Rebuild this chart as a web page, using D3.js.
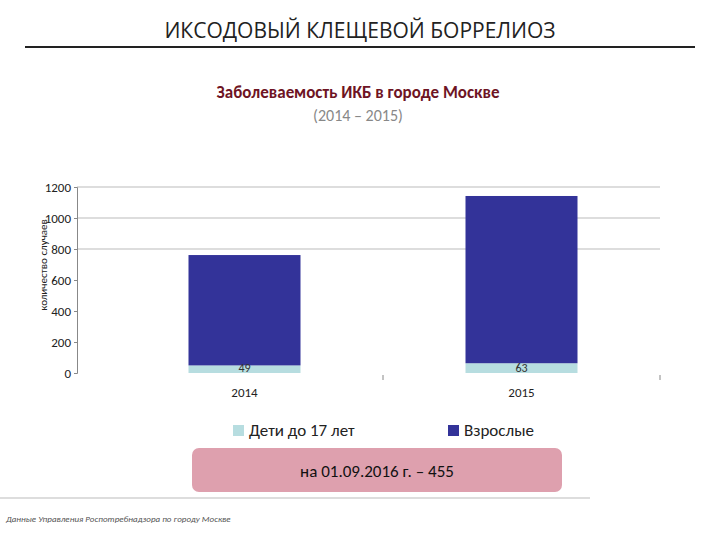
<!DOCTYPE html>
<html><head><meta charset="utf-8">
<script src="https://cdn.jsdelivr.net/npm/d3@7"></script>
<style>body{margin:0;background:#fff}</style></head>
<body><svg id="c" width="720" height="540"></svg>
<script>
const categories = ["2014","2015"];
const children = [49, 63];
const adults = [712, 1079];
const yTicks = [0,200,400,600,800,1000,1200];
const gridTicks = [800,1000,1200];
const seriesNames = ["Дети до 17 лет","Взрослые"];
const colors = ["#b7dde0","#333399"];

const svg = d3.select("#c");
const font = "Calibri, Carlito, 'Open Sans', sans-serif";
svg.append("text").attr("x",360).attr("y",38).attr("text-anchor","middle")
  .attr("font-family","'Open Sans', sans-serif").attr("font-size",21).attr("fill","#222").text("ИКСОДОВЫЙ КЛЕЩЕВОЙ БОРРЕЛИОЗ");
svg.append("line").attr("x1",25).attr("x2",695).attr("y1",47).attr("y2",47).attr("stroke","#222").attr("stroke-width",2);
svg.append("text").attr("x",358).attr("y",98).attr("text-anchor","middle")
  .attr("font-family",font).attr("font-size",17).attr("font-weight",600).attr("fill","#6e1424").text("Заболеваемость ИКБ в городе Москве");
svg.append("text").attr("x",358).attr("y",121).attr("text-anchor","middle")
  .attr("font-family",font).attr("font-size",16).attr("fill","#888").text("(2014 – 2015)");

const x = d3.scaleBand().domain(categories).range([106,660]);
const y = d3.scaleLinear().domain([0,1200]).range([373,187]);
const bw = 112;

const g = svg.append("g");
g.selectAll(".grid").data(gridTicks).join("line")
  .attr("x1",77).attr("x2",660).attr("y1",d=>y(d)).attr("y2",d=>y(d)).attr("stroke","#bbb");
const ya = d3.axisLeft(y).tickValues(yTicks).tickSize(3).tickFormat(d3.format("d"));
const yg = svg.append("g").attr("transform","translate(77,0)").call(ya);
yg.select(".domain").attr("stroke","#888");
yg.selectAll("text").attr("font-family",font).attr("font-size",13).attr("fill","#222");
yg.selectAll(".tick line").attr("stroke","#888");
svg.append("text").attr("transform","translate(47,265) rotate(-90)").attr("text-anchor","middle")
  .attr("font-family",font).attr("font-size",11).attr("fill","#222").text("количество случаев");
svg.selectAll(".xt").data(categories).join("line")
  .attr("x1",d=>x(d)+x.bandwidth()).attr("x2",d=>x(d)+x.bandwidth()).attr("y1",375).attr("y2",380).attr("stroke","#888");
svg.selectAll(".xl").data(categories).join("text")
  .attr("x",d=>x(d)+x.bandwidth()/2).attr("y",397).attr("text-anchor","middle")
  .attr("font-family",font).attr("font-size",13).attr("fill","#222").text(d=>d);

categories.forEach((c,i)=>{
  const cx = x(c)+x.bandwidth()/2;
  g.append("rect").attr("x",cx-bw/2).attr("width",bw).attr("y",y(children[i])).attr("height",y(0)-y(children[i])).attr("fill",colors[0]);
  g.append("rect").attr("x",cx-bw/2).attr("width",bw).attr("y",y(children[i]+adults[i])).attr("height",y(0)-y(adults[i])).attr("fill",colors[1]);
  g.append("text").attr("x",cx).attr("y",y(0)-1).attr("text-anchor","middle").attr("font-family",font).attr("font-size",12).attr("fill","#333").text(children[i]);
});

const lx = [233,448];
seriesNames.forEach((n,i)=>{
  svg.append("rect").attr("x",lx[i]).attr("y",425).attr("width",11).attr("height",11).attr("fill",colors[i]);
  svg.append("text").attr("x",lx[i]+16).attr("y",436).attr("font-family",font).attr("font-size",17).attr("fill","#222").text(n);
});

svg.append("rect").attr("x",192).attr("y",448).attr("width",370).attr("height",44).attr("rx",7).attr("fill","#dea0ae");
svg.append("text").attr("x",377).attr("y",477).attr("text-anchor","middle").attr("font-family",font).attr("font-size",17).attr("fill","#111").text("на 01.09.2016 г. – 455");
svg.append("line").attr("x1",0).attr("x2",590).attr("y1",498).attr("y2",498).attr("stroke","#bbb");
svg.append("text").attr("x",6).attr("y",522).attr("font-family",font).attr("font-size",9).attr("font-style","italic").attr("fill","#555").text("Данные Управления Роспотребнадзора по городу Москве");
</script></body></html>
